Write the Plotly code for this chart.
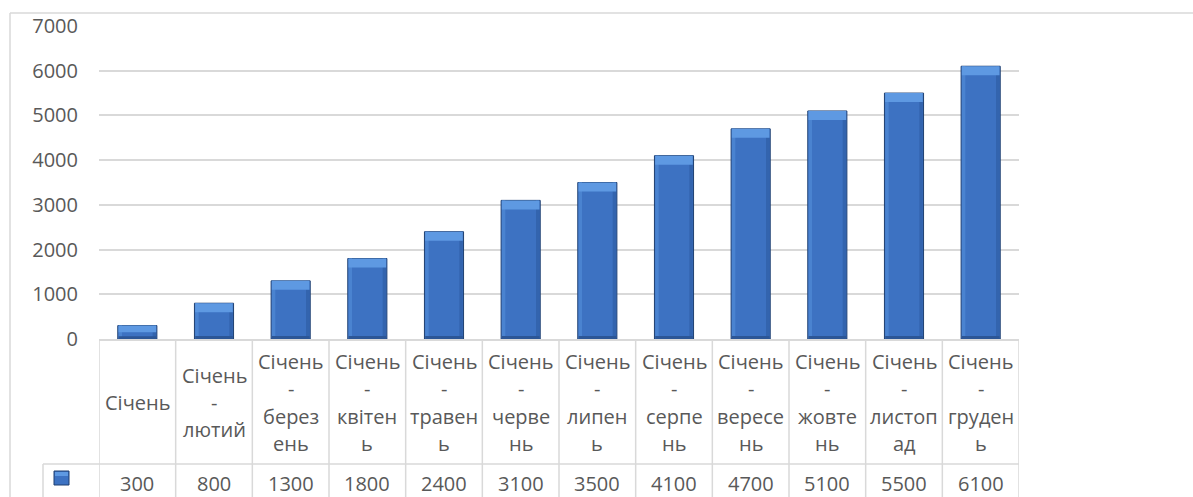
import plotly.graph_objects as go

# Cumulative totals, January through each month
categories = [
    "Січень", "Січень - лютий", "Січень - березень", "Січень - квітень",
    "Січень - травень", "Січень - червень", "Січень - липень", "Січень - серпень",
    "Січень - вересень", "Січень - жовтень", "Січень - листопад", "Січень - грудень",
]
# Header cells of the data table, wrapped the way the narrow columns wrap them
header_labels = [
    "Січень", "Січень<br>-<br>лютий", "Січень<br>-<br>берез<br>ень",
    "Січень<br>-<br>квітен<br>ь", "Січень<br>-<br>травен<br>ь", "Січень<br>-<br>черве<br>нь",
    "Січень<br>-<br>липен<br>ь", "Січень<br>-<br>серпе<br>нь", "Січень<br>-<br>вересе<br>нь",
    "Січень<br>-<br>жовте<br>нь", "Січень<br>-<br>листоп<br>ад", "Січень<br>-<br>груден<br>ь",
]
values = [300, 800, 1300, 1800, 2400, 3100, 3500, 4100, 4700, 5100, 5500, 6100]
y_ticks = [0, 1000, 2000, 3000, 4000, 5000, 6000, 7000]

# ---- page geometry (pixels) ----
W, H = 1193, 497
PL, PR, PT, PB = 99, 1019, 26, 339          # plot area edges
Y_MAX = 7000
ROW_SPLIT = 464                              # header row / value row border
KEY_LEFT = 43                                # left edge of the legend-key cell
GRID = "#D9D9D9"
TEXT = "#595959"
FONT = "Open Sans"
FS = 20


def fx(px):
    return (px - PL) / (PR - PL)


def fy(py):
    return (PB - py) / (PB - PT)


idx = list(range(len(values)))
bar_w = 0.51
px_per_unit = (PB - PT) / Y_MAX
bevel = [min(9 / px_per_unit, v * 0.5) for v in values]
foot = [min(3 / px_per_unit, v * 0.2) for v in values]

fig = go.Figure()

# main body of each column
fig.add_trace(go.Bar(
    x=idx, y=values, width=bar_w,
    marker=dict(color="#3D72C2", line=dict(color="#1F3F70", width=1)),
    hoverinfo="skip", showlegend=False,
))
# lighter left face and darker right face of the bevel
fig.add_trace(go.Bar(
    x=idx, y=values, width=0.045, offset=-bar_w / 2 + 0.01,
    marker=dict(color="#4A83D0", line=dict(width=0)),
    hoverinfo="skip", showlegend=False,
))
fig.add_trace(go.Bar(
    x=idx, y=values, width=0.045, offset=bar_w / 2 - 0.055,
    marker=dict(color="#3364AE", line=dict(width=0)),
    hoverinfo="skip", showlegend=False,
))
# dark foot
fig.add_trace(go.Bar(
    x=idx, y=foot, width=bar_w - 0.02,
    marker=dict(color="#2C5696", line=dict(width=0)),
    hoverinfo="skip", showlegend=False,
))
# light top bevel
fig.add_trace(go.Bar(
    x=idx, y=bevel, base=[v - b for v, b in zip(values, bevel)], width=bar_w - 0.02,
    marker=dict(color="#5E99E2", line=dict(width=0)),
    hoverinfo="skip", showlegend=False,
))

shapes = []
line = dict(color=GRID, width=1.5)

# outer chart frame
shapes.append(dict(type="line", xref="paper", yref="paper",
                   x0=fx(10), x1=fx(W + 5), y0=fy(13), y1=fy(13), line=line))
shapes.append(dict(type="line", xref="paper", yref="paper",
                   x0=fx(10), x1=fx(10), y0=fy(13), y1=fy(H + 5), line=line))

# data table grid
for i in range(len(values) + 1):
    shapes.append(dict(type="line", xref="x", yref="paper",
                       x0=i - 0.5, x1=i - 0.5, y0=fy(PB), y1=fy(H + 5), line=line))
shapes.append(dict(type="line", xref="paper", yref="paper",
                   x0=fx(KEY_LEFT), x1=fx(PR), y0=fy(ROW_SPLIT), y1=fy(ROW_SPLIT), line=line))
shapes.append(dict(type="line", xref="paper", yref="paper",
                   x0=fx(KEY_LEFT), x1=fx(KEY_LEFT), y0=fy(ROW_SPLIT), y1=fy(H + 5), line=line))

# legend key in the value row
shapes.append(dict(type="rect", xref="paper", yref="paper",
                   x0=fx(54), x1=fx(69), y0=fy(485), y1=fy(471),
                   fillcolor="#3D72C2", line=dict(color="#1F3F70", width=1)))
shapes.append(dict(type="rect", xref="paper", yref="paper",
                   x0=fx(55), x1=fx(68), y0=fy(476), y1=fy(472),
                   fillcolor="#5E99E2", line=dict(width=0)))

annotations = []
LINE_H = 27.5
head_mid = (PB + ROW_SPLIT) / 2 + 1
for i, lab in enumerate(header_labels):
    parts = lab.split("<br>")
    n = len(parts)
    for k, part in enumerate(parts):
        py = head_mid + (k - (n - 1) / 2) * LINE_H
        annotations.append(dict(
            x=i, xref="x", y=fy(py), yref="paper", text=part, showarrow=False,
            xanchor="center", yanchor="middle",
            font=dict(family=FONT, size=FS, color=TEXT),
        ))
for i, v in enumerate(values):
    annotations.append(dict(
        x=i, xref="x", y=fy(483), yref="paper", text=str(v), showarrow=False,
        xanchor="center", yanchor="middle",
        font=dict(family=FONT, size=FS, color=TEXT),
    ))

fig.update_layout(
    width=W, height=H,
    margin=dict(l=PL, r=W - PR, t=PT, b=H - PB, pad=0),
    paper_bgcolor="white", plot_bgcolor="white",
    barmode="overlay",
    showlegend=False,
    font=dict(family=FONT, size=FS, color=TEXT),
    xaxis=dict(
        range=[-0.5, len(values) - 0.5], showticklabels=False, ticks="",
        showgrid=False, zeroline=False,
        showline=True, linecolor=GRID, linewidth=1.5,
    ),
    yaxis=dict(
        range=[0, Y_MAX], tickvals=y_ticks, ticktext=[str(t) for t in y_ticks],
        showgrid=True, gridcolor=GRID, gridwidth=1.5,
        zeroline=False, showline=False, ticks="",
        ticklabelstandoff=20,
        tickfont=dict(family=FONT, size=FS, color=TEXT),
    ),
    shapes=shapes,
    annotations=annotations,
)

fig.write_html("out.html")
